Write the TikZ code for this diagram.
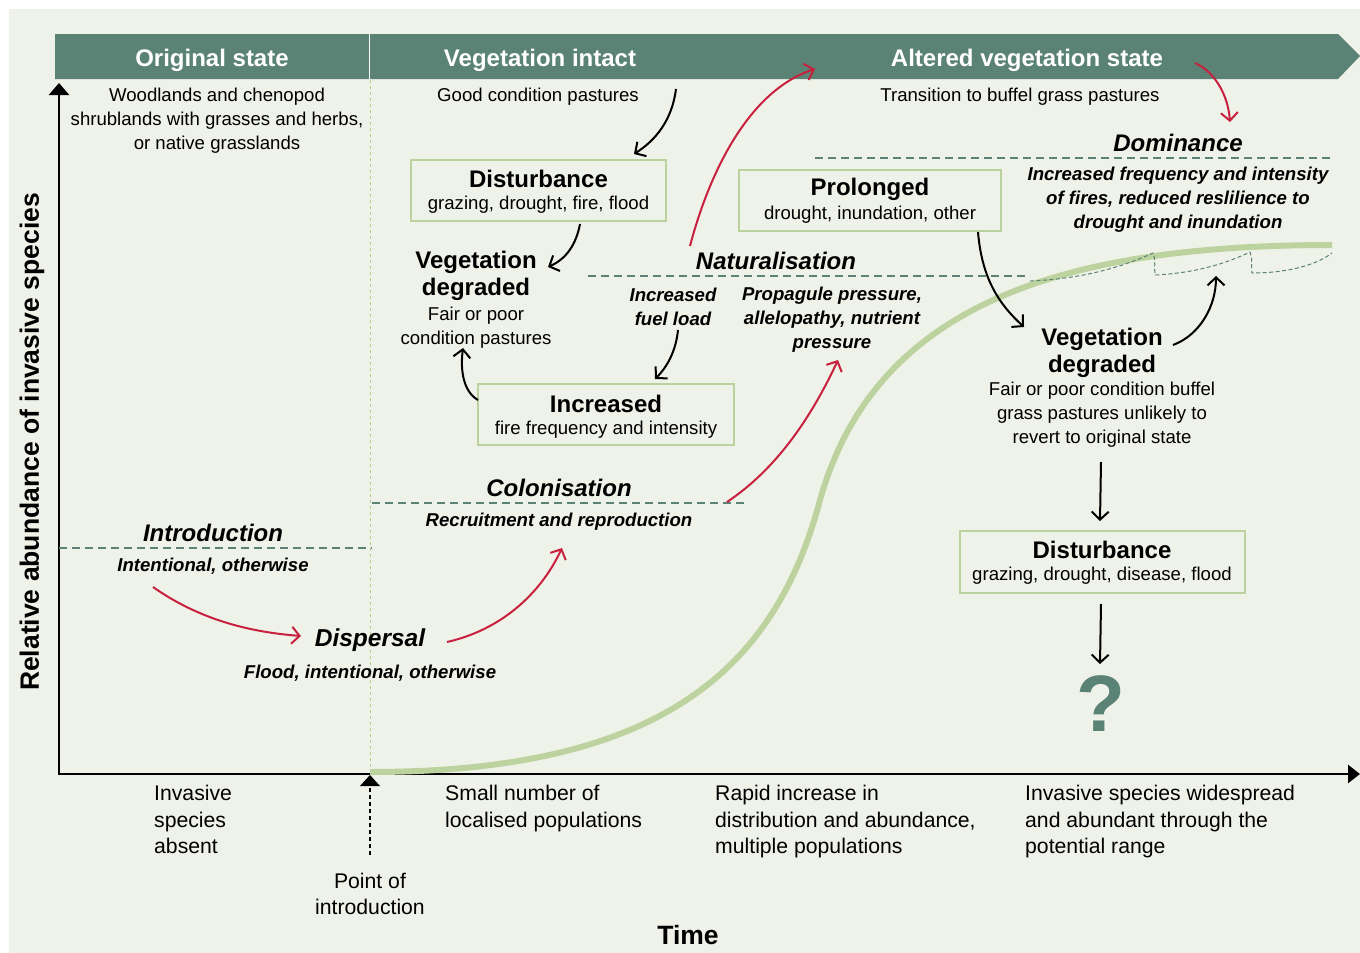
\documentclass[tikz,border=0pt]{standalone}
\usepackage{fontspec}
\setmainfont{Liberation Sans}
\usetikzlibrary{arrows.meta}
\definecolor{bg}{HTML}{EFF2E8}
\definecolor{teal}{HTML}{5A8275}
\definecolor{curvegreen}{HTML}{BDD39F}
\definecolor{boxgreen}{HTML}{BCD29E}
\definecolor{dotgreen}{HTML}{B5D08E}
\definecolor{crimson}{HTML}{C8203F}
\tikzset{
  hdr/.style={font=\fontsize{24}{28}\selectfont\bfseries, text=white, inner sep=0pt},
  body/.style={font=\fontsize{18.6}{24}\selectfont, align=center, inner sep=0pt},
  bottomtxt/.style={font=\fontsize{21.2}{26.5}\selectfont, align=left, anchor=north west, inner sep=0pt},
  stage/.style={font=\fontsize{24}{28}\selectfont\bfseries\itshape, inner sep=0pt},
  stagesub/.style={font=\fontsize{18.6}{24}\selectfont\bfseries\itshape, align=center, inner sep=0pt},
  vegtitle/.style={font=\fontsize{24}{27}\selectfont\bfseries, align=center, inner sep=0pt},
  boxtitle/.style={font=\fontsize{24}{28}\selectfont\bfseries, inner sep=0pt},
  infobox/.style={draw=boxgreen, line width=2.5pt, inner sep=0pt},
  stagedash/.style={draw=teal, line width=2.7pt, dash pattern=on 8pt off 5pt},
  blackarrow/.style={draw=black, line width=2pt, -{Straight Barb[length=8pt,width=17pt,line width=2pt]}},
  redarrow/.style={draw=crimson, line width=2pt, -{Straight Barb[length=8pt,width=17pt,line width=2pt]}},
}
\begin{document}
\begin{tikzpicture}[x=1pt,y=-1pt]
\useasboundingbox (0,0) rectangle (1360,953);
\fill[bg] (9,9) rectangle (1360,953);

% header bar
\fill[teal] (55,34) -- (1338,34) -- (1360,56) -- (1338,79) -- (55,79) -- cycle;
\draw[white, line width=1.5pt] (369.5,34) -- (369.5,79);
\node[hdr] (h1) at (212,60) {Original state};
\node[hdr] (h2) at (540,60) {Vegetation intact};
\node[hdr] (h3) at (1027,60) {Altered vegetation state};

% vertical dotted line
\draw[dotgreen, line width=1pt, dash pattern=on 3pt off 3pt] (370,80) -- (370,772);

% axes
\draw[black, line width=2.6pt, -{Triangle[length=12pt,width=20pt]}] (59,775) -- (59,83);
\draw[black, line width=2.6pt, -{Triangle[length=12pt,width=18pt]}] (58,774) -- (1360,774);

% S-curve
\draw[curvegreen, line width=6pt] (370,772) .. controls (660,772) and (775,670) .. (820,500)
   .. controls (875,305) and (1060,245) .. (1332,245);

% wavy dashed line
\draw[teal, line width=1pt, dash pattern=on 4pt off 2.5pt]
  (1030,281) .. controls (1080,279) and (1120,268) .. (1153,253)
  .. controls (1156,260) and (1154,268) .. (1155,275)
  .. controls (1195,273) and (1225,264) .. (1250,252)
  .. controls (1253,259) and (1251,266) .. (1252,273)
  .. controls (1285,273) and (1315,266) .. (1332,253);

% stage dashed lines
\draw[stagedash] (59,548) -- (372,548);
\draw[stagedash] (372,503) -- (748,503);
\draw[stagedash] (588,276) -- (1030,276);
\draw[stagedash] (815,158) -- (1333,158);

% top description texts
\node[body] (orig) at (217,121) {Woodlands and chenopod\\shrublands with grasses and herbs,\\or native grasslands};
\node[body] (good) at (538,97) {Good condition pastures};
\node[body] (trans) at (1020,97) {Transition to buffel grass pastures};

% Dominance
\node[stage] (dom) at (1178,143) {Dominance};
\node[stagesub] (domsub) at (1178,200) {Increased frequency and intensity\\of fires, reduced reslilience to\\drought and inundation};

% boxes
\node[infobox, minimum width=255pt, minimum height=61pt] (dist1) at (538.5,190.5) {};
\node[boxtitle] (dist1t) at (538.5,179) {Disturbance};
\node[body] (dist1s) at (538.5,205) {grazing, drought, fire, flood};

\node[infobox, minimum width=256pt, minimum height=61pt] (incr) at (606,414.5) {};
\node[boxtitle] (incrt) at (606,404) {Increased};
\node[body] (incrs) at (606,430) {fire frequency and intensity};

\node[infobox, minimum width=262pt, minimum height=61pt] (prol) at (870,200.5) {};
\node[boxtitle] (prolt) at (870,189) {Prolonged};
\node[body] (prols) at (870,215) {drought, inundation, other};

\node[infobox, minimum width=285pt, minimum height=62pt] (dist2) at (1102.5,562) {};
\node[boxtitle] (dist2t) at (1102,550) {Disturbance};
\node[body] (dist2s) at (1102,576) {grazing, drought, disease, flood};

% vegetation degraded (left)
\node[vegtitle] (vd1) at (476,276) {Vegetation\\degraded};
\node[body] (vd1sub) at (476,328) {Fair or poor\\condition pastures};

% Naturalisation
\node[stage] (nat) at (776,261) {Naturalisation};
\node[stagesub] (fuel) at (673,307) {Increased\\fuel load};
\node[stagesub] (prop) at (832,320) {Propagule pressure,\\allelopathy, nutrient\\pressure};

% vegetation degraded (right)
\node[vegtitle] (vd2) at (1102,353) {Vegetation\\degraded};
\node[body] (vd2sub) at (1102,415) {Fair or poor condition buffel\\grass pastures unlikely to\\revert to original state};

% question mark
\node[font=\fontsize{80}{82}\selectfont\bfseries, text=teal, inner sep=0pt] (q) at (1101,704) {?};

% Colonisation
\node[stage] (col) at (559,488) {Colonisation};
\node[stagesub] (colsub) at (559,522) {Recruitment and reproduction};

% Introduction
\node[stage] (intro) at (213,533) {Introduction};
\node[stagesub] (introsub) at (213,566) {Intentional, otherwise};

% Dispersal
\node[font=\fontsize{24.5}{28}\selectfont\bfseries\itshape, inner sep=0pt] (disp) at (370,640) {Dispersal};
\node[stagesub] (dispsub) at (370,673) {Flood, intentional, otherwise};

% bottom texts
\node[bottomtxt] (b1) at (154,785) {Invasive\\species\\absent};
\node[bottomtxt] (b2) at (445,785) {Small number of\\localised populations};
\node[bottomtxt] (b3) at (715,785) {Rapid increase in\\distribution and abundance,\\multiple populations};
\node[bottomtxt] (b4) at (1025,785) {Invasive species widespread\\and abundant through the\\potential range};
\node[font=\fontsize{21.2}{26.5}\selectfont, align=center, inner sep=0pt] (poi) at (370,894) {Point of\\introduction};
\node[font=\fontsize{26.5}{30}\selectfont\bfseries, inner sep=0pt] (time) at (688,935) {Time};
\node[font=\fontsize{26.5}{30}\selectfont\bfseries, rotate=90, inner sep=0pt] (ylab) at (32,442) {Relative abundance of invasive species};

% point of introduction marker
\coordinate (poitip) at (370,775);
\coordinate (poibase) at (370,855);
\draw[black, line width=1.2pt, dash pattern=on 4pt off 3pt] (poibase) -- (370,786);
\fill[black] (poitip) -- (380,786) -- (360,786) -- cycle;

% black arrows
\coordinate (a1s) at (676,89);  \coordinate (a1e) at (634,154);
\draw[blackarrow] (a1s) .. controls (672,120) and (656,140) .. (a1e);
\coordinate (a2s) at (580,224); \coordinate (a2e) at (548,267);
\draw[blackarrow] (a2s) .. controls (576,245) and (566,259) .. (a2e);
\coordinate (a3s) at (478,400); \coordinate (a3e) at (463,348);
\draw[blackarrow] (a3s) .. controls (464,392) and (460,372) .. (a3e);
\coordinate (a4s) at (678,330); \coordinate (a4e) at (655,379);
\draw[blackarrow] (a4s) .. controls (676,350) and (668,366) .. (a4e);
\coordinate (a5s) at (978,232); \coordinate (a5e) at (1024,327);
\draw[blackarrow] (a5s) .. controls (982,280) and (1000,305) .. (a5e);
\coordinate (a6s) at (1173,345); \coordinate (a6e) at (1216,276);
\draw[blackarrow] (a6s) .. controls (1200,335) and (1216,306) .. (a6e);
\coordinate (a7s) at (1101,462); \coordinate (a7e) at (1100,521);
\draw[blackarrow] (a7s) -- (a7e);
\coordinate (a8s) at (1101,604); \coordinate (a8e) at (1100,664);
\draw[blackarrow] (a8s) -- (a8e);

% red arrows
\coordinate (r1s) at (153,587); \coordinate (r1e) at (301,636);
\draw[redarrow] (r1s) .. controls (200,620) and (250,632) .. (r1e);
\coordinate (r2s) at (447,642); \coordinate (r2e) at (562,548);
\draw[redarrow] (r2s) .. controls (500,630) and (540,595) .. (r2e);
\coordinate (r3s) at (727,502); \coordinate (r3e) at (838,360);
\draw[redarrow] (r3s) .. controls (775,470) and (810,420) .. (r3e);
\coordinate (r4s) at (690,246); \coordinate (r4e) at (815,69);
\draw[redarrow] (r4s) .. controls (710,170) and (750,90) .. (r4e);
\coordinate (r5s) at (1195,63); \coordinate (r5e) at (1230,122);
\draw[redarrow] (r5s) .. controls (1215,72) and (1228,95) .. (r5e);
\end{tikzpicture}
\end{document}
